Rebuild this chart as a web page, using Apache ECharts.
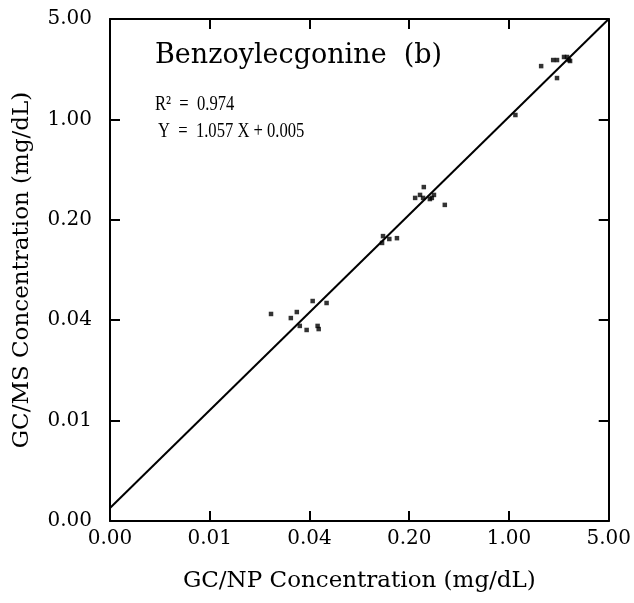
<!DOCTYPE html>
<html>
<head>
<meta charset="utf-8">
<script src="https://cdn.jsdelivr.net/npm/echarts@6/dist/echarts.min.js"></script>
<style>
  html, body { margin: 0; padding: 0; background: #fff; }
  #chart { width: 634px; height: 603px; }
</style>
</head>
<body>
<div id="chart"></div>
<script>
// GC/NP (x) vs GC/MS (y) concentrations, mg/dL
var npValues = [0.0215, 0.0296, 0.0326, 0.0342, 0.0382, 0.0421, 0.0456, 0.0464, 0.0527,
                0.131, 0.129, 0.145, 0.164, 0.253, 0.220, 0.238, 0.250, 0.288, 0.298, 0.279, 0.355,
                1.109, 1.68, 2.04, 2.17, 2.43, 2.55, 2.68, 2.17, 2.63];
var msValues = [0.0442, 0.0414, 0.0456, 0.0365, 0.0342, 0.0544, 0.0365, 0.0347, 0.0527,
                0.154, 0.138, 0.147, 0.149, 0.338, 0.284, 0.298, 0.284, 0.284, 0.298, 0.279, 0.254,
                1.073, 2.35, 2.59, 2.59, 2.72, 2.72, 2.55, 1.94, 2.59];
// drawn regression line end points
var fitX = [0.0016, 5];
var fitY = [0.00197, 5];
var axisMin = 0.0016, axisMax = 5;

var points = npValues.map(function(x, i) { return [x, msValues[i]]; });
var fitLine = fitX.map(function(x, i) { return [x, fitY[i]]; });

var serif = 'DejaVu Serif';
var fmt = function(v) { return Number(v).toFixed(2); };

function logAxis(extra) {
  return Object.assign({
    type: 'log',
    logBase: 5,
    min: axisMin,
    max: axisMax,
    axisLine: { show: true, onZero: false, lineStyle: { color: '#000', width: 2 } },
    axisTick: { show: true, inside: true, length: 10, lineStyle: { color: '#000', width: 2 } },
    splitLine: { show: false },
    minorTick: { show: false }
  }, extra);
}

var chart = echarts.init(document.getElementById('chart'), null, { renderer: 'canvas' });
chart.setOption({
  animation: false,
  backgroundColor: '#fff',
  grid: { left: 110, right: 22, top: 19, bottom: 82, containLabel: false },
  xAxis: [
    logAxis({
      position: 'bottom',
      name: 'GC/NP Concentration (mg/dL)',
      nameLocation: 'middle',
      nameGap: 49,
      nameTextStyle: { fontFamily: serif, fontSize: 23, color: '#000' },
      axisLabel: { formatter: fmt, fontFamily: serif, fontSize: 20, color: '#000', margin: 8 }
    }),
    logAxis({ position: 'top', axisLabel: { show: false } })
  ],
  yAxis: [
    logAxis({
      position: 'left',
      name: 'GC/MS Concentration (mg/dL)',
      nameLocation: 'middle',
      nameGap: 76,
      nameTextStyle: { fontFamily: serif, fontSize: 23, color: '#000' },
      axisLabel: { formatter: fmt, fontFamily: serif, fontSize: 20, color: '#000', margin: 18 }
    }),
    logAxis({ position: 'right', axisLabel: { show: false } })
  ],
  graphic: [
    { type: 'text', left: 155, top: 42, style: { text: 'Benzoylecgonine  (b)', font: '27px "DejaVu Serif"', fill: '#000' } },
    { type: 'text', x: 155, y: 94, scaleX: 0.79, style: { text: 'R\u00B2  =  0.974', font: '21px "Liberation Serif"', fill: '#000' } },
    { type: 'text', x: 158, y: 121, scaleX: 0.79, style: { text: 'Y  =  1.057 X + 0.005', font: '21px "Liberation Serif"', fill: '#000' } }
  ],
  series: [
    {
      type: 'line',
      data: fitLine,
      showSymbol: false,
      lineStyle: { color: '#000', width: 2 },
      silent: true
    },
    {
      type: 'scatter',
      data: points,
      symbol: 'rect',
      symbolSize: 4.5,
      itemStyle: { color: '#000' }
    }
  ]
});
</script>
</body>
</html>
